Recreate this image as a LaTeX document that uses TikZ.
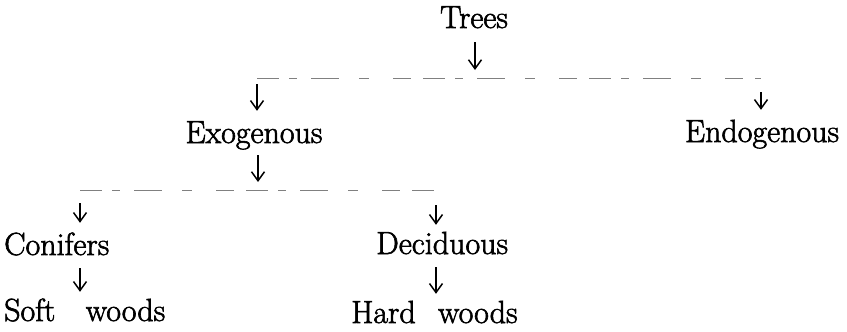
\documentclass[tikz,border=0pt]{standalone}
\usepackage{fontspec}
\newfontfamily\lblfont{Latin Modern Roman}[RawFeature={embolden=1.9}]
\usetikzlibrary{arrows.meta}
\begin{document}
\begin{tikzpicture}[x=1pt,y=-1pt,
  lbl/.style={inner sep=0pt,font=\lblfont\fontsize{32}{38}\selectfont,text height=21pt,text depth=6pt},
  arr/.style={line width=1.5pt,-{Straight Barb[length=9pt,width=13pt,line width=1.5pt]}},
  brk/.style={line width=0.7pt,black!50,dash pattern=on 22pt off 10pt on 8pt off 14pt on 28pt off 20pt on 10pt off 24pt on 18pt off 12pt}]
\useasboundingbox (0,0) rectangle (847,332);
% nodes
\node[lbl,anchor=base] (trees) at (474,28) {Trees};
\node[lbl,anchor=base] (exo) at (254,143) {Exogenous};
\node[lbl,anchor=base] (endo) at (762,142) {Endogenous};
\node[lbl,anchor=base west] (con) at (4,255) {Conifers};
\node[lbl,anchor=base west] (soft) at (4,321) {Soft\hspace{0.95em}woods};
\node[lbl,anchor=base west] (dec) at (376,254) {Deciduous};
\node[lbl,anchor=base west] (hard) at (351,323) {Hard\hspace{0.7em}woods};
% bracket lines
\coordinate (tl) at (257,78);
\coordinate (tm) at (475,78);
\coordinate (tr) at (761,78);
\coordinate (bl) at (80,190);
\coordinate (bm) at (258,190);
\coordinate (br) at (436,190);
\draw[brk] (tl) -- (tr);
\draw[brk] (bl) -- (br);
% arrows
\draw[arr,shorten <=8pt,shorten >=8pt] (trees.south -| tm) -- (tm);
\draw[arr,shorten <=6pt,shorten >=11pt] (tl) -- (tl |- exo.north);
\draw[arr,shorten <=14pt,shorten >=11pt] (tr) -- (tr |- endo.north);
\draw[arr,shorten <=6pt,shorten >=8pt] (exo.south -| bm) -- (bm);
\draw[arr,shorten <=13pt,shorten >=11pt] (bl) -- (bl |- con.north);
\draw[arr,shorten <=15pt,shorten >=8pt] (br) -- (br |- dec.north);
\draw[arr,shorten <=7pt,shorten >=8pt] ([xshift=76pt]con.south west) -- ([xshift=76pt]con.south west |- soft.north);
\draw[arr,shorten <=7pt,shorten >=8pt] (dec.south -| br) -- (br |- hard.north);
\end{tikzpicture}
\end{document}
